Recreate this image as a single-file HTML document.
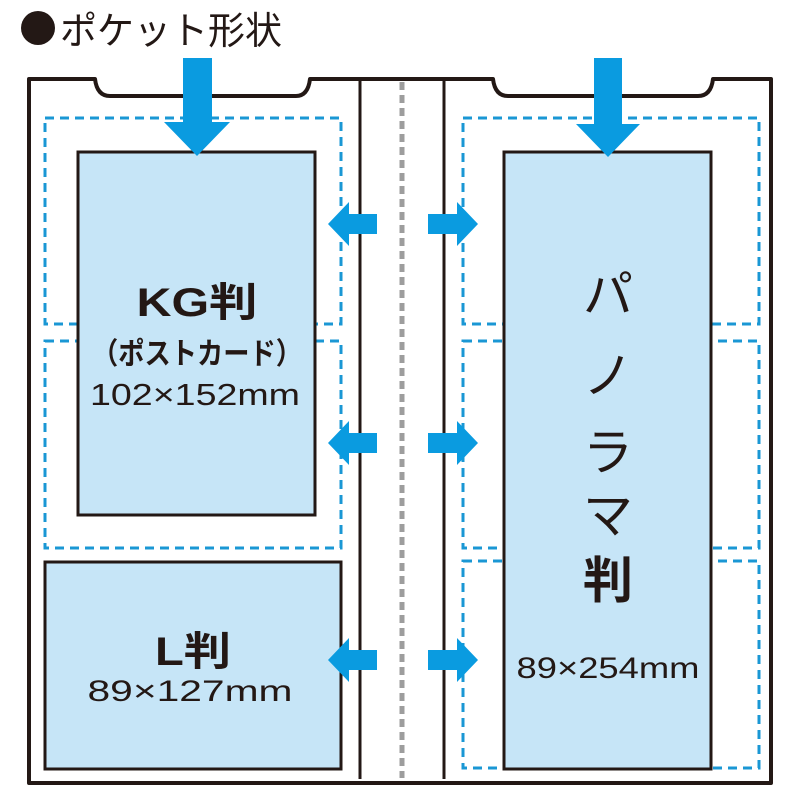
<!DOCTYPE html>
<html><head><meta charset="utf-8"><style>
html,body{margin:0;padding:0;background:#fff;width:800px;height:800px;overflow:hidden}
svg{display:block}
text{font-family:"Liberation Sans","Noto Sans CJK JP",sans-serif;fill:#231815}
</style></head><body>
<svg width="800" height="800" viewBox="0 0 800 800">
<circle cx="38" cy="28" r="17" fill="#231815"/>
<text x="60" y="44" font-size="38" textLength="222" lengthAdjust="spacingAndGlyphs">ポケット形状</text>
<!-- frame -->
<path d="M29 783 L29 79 L95 79 Q97 96 110 96 L296 96 Q308 96 310 79 L493 79 Q495 96 508 96 L698 96 Q711 96 713 79 L771 79 L771 783 Z" fill="none" stroke="#231815" stroke-width="4" stroke-linejoin="round"/>
<line x1="360" y1="79" x2="360" y2="779" stroke="#231815" stroke-width="3"/>
<line x1="444" y1="79" x2="444" y2="779" stroke="#231815" stroke-width="3"/>
<line x1="402" y1="82" x2="402" y2="778" stroke="#9d9d9d" stroke-width="5" stroke-dasharray="8,5"/>
<!-- dashed pockets -->
<g fill="none" stroke="#1a97d4" stroke-width="3" stroke-dasharray="9,6">
<rect x="45" y="118" width="296" height="206"/>
<rect x="45" y="341" width="296" height="207"/>
<rect x="463" y="118" width="296" height="206"/>
<rect x="463" y="341" width="296" height="207"/>
<rect x="463" y="561" width="296" height="207"/>
</g>
<!-- photos -->
<rect x="78" y="152" width="237" height="363" fill="#c6e5f7" stroke="#231815" stroke-width="3"/>
<rect x="45" y="562" width="296" height="207" fill="#c6e5f7" stroke="#231815" stroke-width="3"/>
<rect x="504" y="152" width="207" height="617" fill="#c6e5f7" stroke="#231815" stroke-width="3"/>
<!-- arrows -->
<g fill="#0a9be0">
<polygon points="183,58 212,58 212,122 230,122 197,156 164,122 183,122"/>
<polygon points="594,58 622,58 622,124 640,124 608,157 576,124 594,124"/>
<g id="ra"><polygon points="428,214 457,214 457,202 478,224 457,246 457,234 428,234"/></g>
<use href="#ra" transform="translate(0,219)"/>
<use href="#ra" transform="translate(0,436)"/>
<g id="la"><polygon points="377,214 349,214 349,202 328,224 349,246 349,234 377,234"/></g>
<use href="#la" transform="translate(0,219)"/>
<use href="#la" transform="translate(0,436)"/>
</g>
<!-- labels -->
<g text-anchor="middle">
<text x="197" y="316" font-size="40" font-weight="bold" textLength="121" lengthAdjust="spacingAndGlyphs">KG判</text>
<text x="197" y="364" font-size="30" font-weight="bold" textLength="210" lengthAdjust="spacingAndGlyphs">（ポストカード）</text>
<text x="195" y="405" font-size="31" textLength="210" lengthAdjust="spacingAndGlyphs">102×152mm</text>
<text x="193" y="665" font-size="40" font-weight="bold" textLength="76" lengthAdjust="spacingAndGlyphs">L判</text>
<text x="190" y="701" font-size="30" textLength="205" lengthAdjust="spacingAndGlyphs">89×127mm</text>
<text x="608" y="312" font-size="50">パ</text>
<text x="608" y="393" font-size="50">ノ</text>
<text x="608" y="470" font-size="50">ラ</text>
<text x="608" y="533" font-size="50">マ</text>
<text x="608" y="598" font-size="50" font-weight="bold">判</text>
<text x="608" y="678" font-size="30" textLength="183" lengthAdjust="spacingAndGlyphs">89×254mm</text>
</g>
</svg>
</body></html>
